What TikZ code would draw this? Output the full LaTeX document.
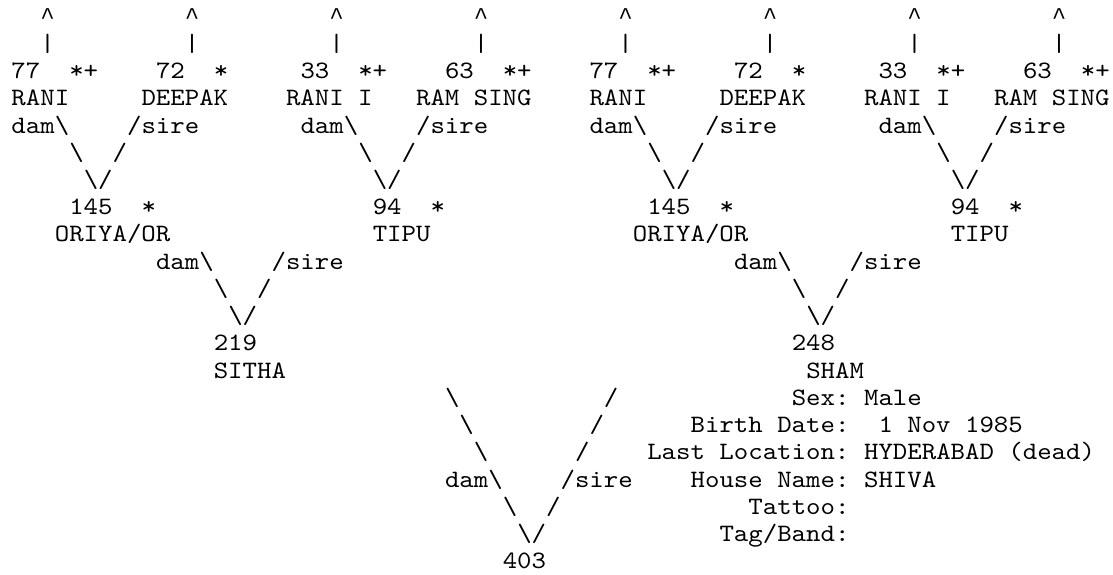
\documentclass[tikz,border=0pt]{standalone}
\usepackage{fontspec}
\newfontfamily\monofnt{lmmono10-regular.otf}[FakeStretch=1.1]
\newfontfamily\caretfnt{Liberation Mono}
\newcommand\bsl{\textbackslash}
\newcommand\caret{{\caretfnt\fontsize{24.08pt}{27pt}\selectfont\textasciicircum}}
\tikzset{tt/.style={anchor=base west, inner sep=0pt, outer sep=0pt, text=black, font=\monofnt\fontsize{25pt}{27pt}\selectfont}}
% #1 name, #2 column, #3 line, #4 text
\newcommand\tok[4]{\node[tt] (#1) at ({11.5pt+#2*14.45pt},{-24.1pt-(#3-1)*27.23pt}) {#4};}
\begin{document}
\begin{tikzpicture}
\fill[white] (0,0) rectangle (1113pt,-574pt);
\useasboundingbox (0,0) rectangle (1113pt,-574pt);
% line 1 and 2: arrows up
\foreach \c [count=\i] in {2,12,22,32,42,52,62,72}{
  \tok{up\i}{\c}{1}{\caret}
  \tok{bar\i}{\c}{2}{\textbar}
}
% line 3: numbers
\tok{n1}{0}{3}{77}  \tok{s1}{4}{3}{*+}
\tok{n2}{10}{3}{72} \tok{s2}{14}{3}{*}
\tok{n3}{20}{3}{33} \tok{s3}{24}{3}{*+}
\tok{n4}{30}{3}{63} \tok{s4}{34}{3}{*+}
\tok{n5}{40}{3}{77} \tok{s5}{44}{3}{*+}
\tok{n6}{50}{3}{72} \tok{s6}{54}{3}{*}
\tok{n7}{60}{3}{33} \tok{s7}{64}{3}{*+}
\tok{n8}{70}{3}{63} \tok{s8}{74}{3}{*+}
% line 4: names
\tok{m1}{0}{4}{RANI}
\tok{m2}{9}{4}{DEEPAK}
\tok{m3}{19}{4}{RANI I}
\tok{m4}{28}{4}{RAM SING}
\tok{m5}{40}{4}{RANI}
\tok{m6}{49}{4}{DEEPAK}
\tok{m7}{59}{4}{RANI I}
\tok{m8}{68}{4}{RAM SING}
% line 5
\tok{d1}{0}{5}{dam\bsl}  \tok{r1}{8}{5}{/sire}
\tok{d2}{20}{5}{dam\bsl} \tok{r2}{28}{5}{/sire}
\tok{d3}{40}{5}{dam\bsl} \tok{r3}{48}{5}{/sire}
\tok{d4}{60}{5}{dam\bsl} \tok{r4}{68}{5}{/sire}
% line 6
\tok{ba1}{4}{6}{\bsl}  \tok{fa1}{7}{6}{/}
\tok{ba2}{24}{6}{\bsl} \tok{fa2}{27}{6}{/}
\tok{ba3}{44}{6}{\bsl} \tok{fa3}{47}{6}{/}
\tok{ba4}{64}{6}{\bsl} \tok{fa4}{67}{6}{/}
% line 7
\tok{v1}{5}{7}{\bsl/}
\tok{v2}{25}{7}{\bsl/}
\tok{v3}{45}{7}{\bsl/}
\tok{v4}{65}{7}{\bsl/}
% line 8
\tok{g1}{4}{8}{145} \tok{gs1}{9}{8}{*}
\tok{g2}{25}{8}{94} \tok{gs2}{29}{8}{*}
\tok{g3}{44}{8}{145} \tok{gs3}{49}{8}{*}
\tok{g4}{65}{8}{94} \tok{gs4}{69}{8}{*}
% line 9
\tok{gn1}{3}{9}{ORIYA/OR}
\tok{gn2}{25}{9}{TIPU}
\tok{gn3}{43}{9}{ORIYA/OR}
\tok{gn4}{65}{9}{TIPU}
% line 10
\tok{pd1}{10}{10}{dam\bsl} \tok{pr1}{18}{10}{/sire}
\tok{pd2}{50}{10}{dam\bsl} \tok{pr2}{58}{10}{/sire}
% line 11
\tok{pb1}{14}{11}{\bsl} \tok{pf1}{17}{11}{/}
\tok{pb2}{54}{11}{\bsl} \tok{pf2}{57}{11}{/}
% line 12
\tok{pv1}{15}{12}{\bsl/}
\tok{pv2}{55}{12}{\bsl/}
% line 13, 14
\tok{p1}{14}{13}{219}
\tok{p2}{54}{13}{248}
\tok{pn1}{14}{14}{SITHA}
\tok{pn2}{55}{14}{SHAM}
% lines 15-21
\tok{cb1}{30}{15}{\bsl} \tok{cf1}{41}{15}{/}
\tok{cb2}{31}{16}{\bsl} \tok{cf2}{40}{16}{/}
\tok{cb3}{32}{17}{\bsl} \tok{cf3}{39}{17}{/}
\tok{cd}{30}{18}{dam\bsl} \tok{cr}{38}{18}{/sire}
\tok{cb5}{34}{19}{\bsl} \tok{cf5}{37}{19}{/}
\tok{cv}{35}{20}{\bsl/}
\tok{c}{34}{21}{403}
% info block
\tok{k1}{54}{15}{Sex:} \tok{w1}{59}{15}{Male}
\tok{k2}{47}{16}{Birth Date:} \tok{w2}{60}{16}{1 Nov 1985}
\tok{k3}{44}{17}{Last Location:} \tok{w3}{59}{17}{HYDERABAD (dead)}
\tok{k4}{47}{18}{House Name:} \tok{w4}{59}{18}{SHIVA}
\tok{k5}{51}{19}{Tattoo:}
\tok{k6}{49}{20}{Tag/Band:}
\end{tikzpicture}
\end{document}
